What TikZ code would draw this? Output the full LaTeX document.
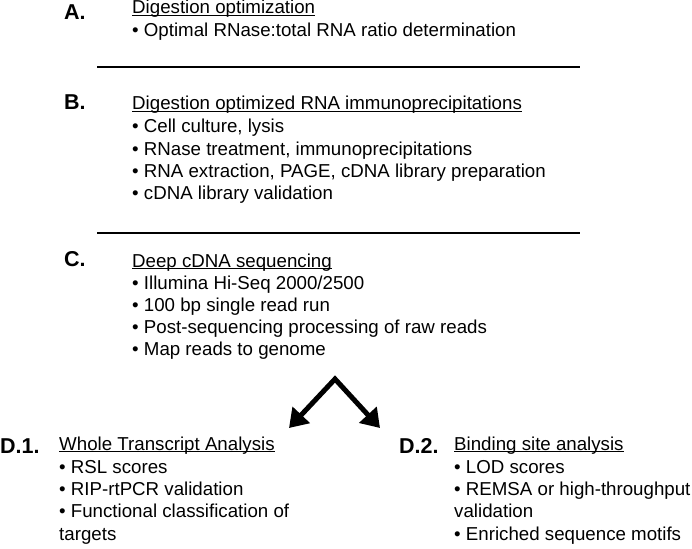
\documentclass[tikz,border=0pt]{standalone}
\usepackage{fontspec}
\setmainfont{Liberation Sans}
\usetikzlibrary{arrows.meta}
\newcommand\ulx[1]{\setbox0\hbox{#1}\rlap{\rule[-2.2pt]{\wd0}{1.1pt}}\box0}
\begin{document}
\begin{tikzpicture}[x=1pt,y=-1pt,
  txt/.style={anchor=base west, inner sep=0pt, font=\fontsize{18.7}{22}\selectfont},
  lbl/.style={anchor=base west, inner sep=0pt, font=\fontsize{21.5}{22}\selectfont\bfseries},
  sep/.style={line width=2pt},
  bigarrow/.style={line width=5pt, line join=miter,
    {Triangle[length=18pt,width=23pt]}-{Triangle[length=18pt,width=23pt]}}]
\useasboundingbox[fill=white] (0,0) rectangle (692,548);
% A
\node[lbl] (Alab) at (64,20) {A.};
\node[txt] (Atitle) at (132,14) {\ulx{Digestion optimization}};
\node[txt] (A1) at (132,37) {• Optimal RNase:total RNA ratio determination};
\coordinate (s1a) at (97,67); \coordinate (s1b) at (580,67);
\draw[sep] (s1a) -- (s1b);
% B
\node[lbl] (Blab) at (64,110) {B.};
\node[txt] (Btitle) at (132,110) {\ulx{Digestion optimized RNA immunoprecipitations}};
\node[txt] (B1) at (132,133) {• Cell culture, lysis};
\node[txt] (B2) at (132,155) {• RNase treatment, immunoprecipitations};
\node[txt] (B3) at (132,177) {• RNA extraction, PAGE, cDNA library preparation};
\node[txt] (B4) at (132,199) {• cDNA library validation};
\coordinate (s2a) at (97,233); \coordinate (s2b) at (580,233);
\draw[sep] (s2a) -- (s2b);
% C
\node[lbl] (Clab) at (64,266) {C.};
\node[txt] (Ctitle) at (132,267) {\ulx{Deep cDNA sequencing}};
\node[txt] (C1) at (132,289) {• Illumina Hi-Seq 2000/2500};
\node[txt] (C2) at (132,311) {• 100 bp single read run};
\node[txt] (C3) at (132,333) {• Post-sequencing processing of raw reads};
\node[txt] (C4) at (132,355) {• Map reads to genome};
% arrows
\coordinate (apex) at (335,379);
\coordinate (tipL) at (289,428);
\coordinate (tipR) at (380,428);
\draw[bigarrow] (tipL) -- (apex) -- (tipR);
% D1
\node[lbl] (D1lab) at (0,453) {D.1.};
\node[txt] (D1title) at (59,450) {\ulx{Whole Transcript Analysis}};
\node[txt] (D11) at (59,473) {• RSL scores};
\node[txt] (D12) at (59,495) {• RIP-rtPCR validation};
\node[txt] (D13) at (59,517) {• Functional classification of};
\node[txt] (D14) at (59,540) {targets};
% D2
\node[lbl] (D2lab) at (399,453) {D.2.};
\node[txt] (D2title) at (454,450) {\ulx{Binding site analysis}};
\node[txt] (D21) at (454,473) {• LOD scores};
\node[txt] (D22) at (454,495) {• REMSA or high-throughput};
\node[txt] (D23) at (454,517) {validation};
\node[txt] (D24) at (454,540) {• Enriched sequence motifs};
\end{tikzpicture}
\end{document}
